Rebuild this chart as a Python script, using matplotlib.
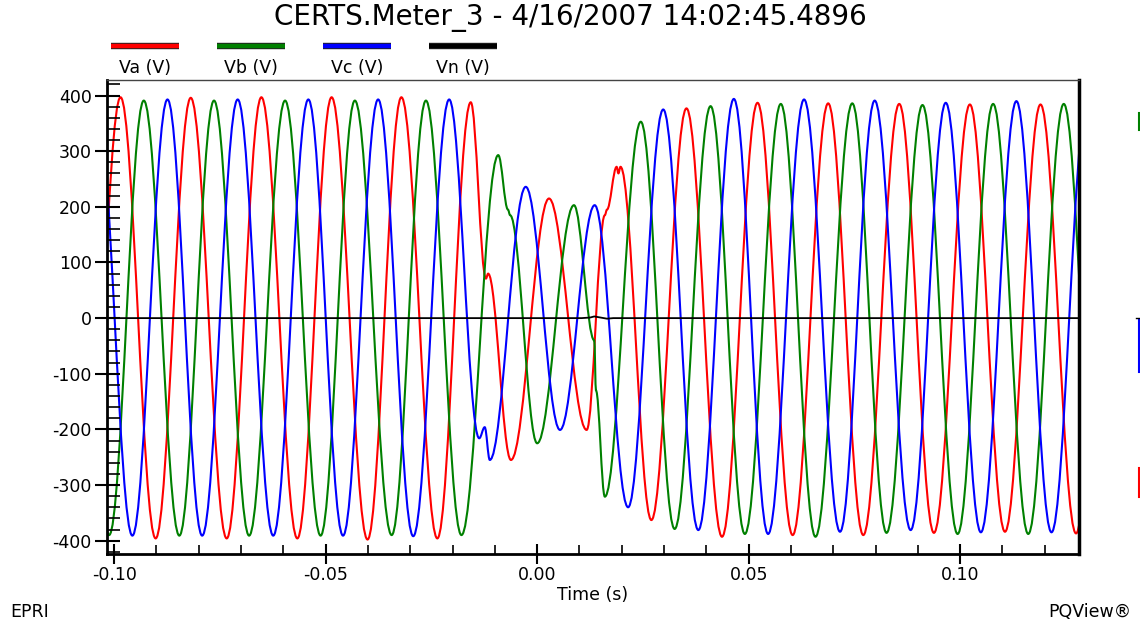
import numpy as np
import matplotlib
matplotlib.use("Agg")
import matplotlib.pyplot as plt
import matplotlib.patheffects as pe
from matplotlib.path import Path
from matplotlib.patches import PathPatch
from matplotlib.lines import Line2D
from matplotlib.ticker import MultipleLocator, FixedLocator, FormatStrFormatter

plt.rcParams["font.family"] = ["DejaVu Sans"]
plt.rcParams["axes.unicode_minus"] = False

# Datos: extremos de cada onda (tiempo en ms, tension en V)
va_t = [-106.8, -98.5, -90.2, -81.9, -73.4, -65.2, -56.7, -48.6, -40.1, -32.1, -23.6, -15.7,
        -12.1, -11.6, -6.2, 2.8, 11.7, 16.0, 16.5, 18.8, 19.2, 19.7, 27.0, 35.3, 43.7, 52.1,
        60.4, 68.8, 77.1, 85.6, 93.8, 102.3, 110.6, 119.0, 127.4, 135.7]
va_v = [-395, 397, -396, 396, -396, 397, -396, 397, -398, 397, -396, 388,
        71, 80, -255, 215, -201, 185, 195, 272, 260, 272, -363, 377, -393, 387,
        -390, 386, -390, 385, -386, 384, -384, 384, -387, 385]

vb_t = [-109.5, -101.2, -93.0, -84.6, -76.4, -68.1, -59.6, -51.2, -43.1, -34.4, -26.3, -17.9,
        -9.2, -6.9, -6.4, 0.0, 8.7, 13.5, 13.9, 16.0, 24.5, 32.5, 41.0, 49.1, 57.6, 65.8,
        74.5, 82.6, 91.1, 99.4, 107.8, 116.1, 124.5, 132.8]
vb_v = [391, -390, 391, -391, 391, -391, 391, -391, 391, -390, 391, -390,
        293, 195, 185, -225, 203, -40, -130, -321, 353, -379, 381, -388, 385, -393,
        386, -386, 383, -388, 385, -388, 385, -388]

vc_t = [-104.1, -95.7, -87.4, -79.2, -70.8, -62.4, -54.1, -45.9, -37.6, -29.3, -20.8,
        -13.7, -12.4, -11.2, -2.7, 5.4, 13.6, 21.5, 29.8, 38.1, 46.5, 54.6, 63.1, 71.6,
        79.8, 88.3, 96.6, 104.9, 113.3, 121.6, 130.0]
vc_v = [391, -391, 393, -391, 393, -391, 393, -391, 393, -392, 393,
        -216, -196, -255, 236, -201, 203, -340, 375, -381, 394, -388, 393, -384,
        391, -381, 387, -385, 390, -385, 388]

vn_t = [-101.7, 10.5, 12.5, 13.5, 15.0, 16.5, 18.0, 128.1]
vn_v = [0, 0, 1, 3, 1, -1, 0, 0]

series = ["Va (V)", "Vb (V)", "Vc (V)", "Vn (V)"]
colores = ["#ff0000", "#008000", "#0000ff", "#000000"]

titulo = "CERTS.Meter_3 - 4/16/2007 14:02:45.4896"

W, H = 1140, 626
fig = plt.figure(figsize=(W / 100, H / 100), dpi=100)
ax = fig.add_axes([107 / W, 1 - 554 / H, (1079 - 107) / W, (554 - 80) / H])

K = 0.364  # forma de la curva entre extremos (aprox. senoidal)


def onda(t_ms, v, color):
    t = np.asarray(t_ms) / 1000.0
    v = np.asarray(v, dtype=float)
    verts = [(t[0], v[0])]
    codes = [Path.MOVETO]
    for i in range(len(t) - 1):
        dt = t[i + 1] - t[i]
        verts += [(t[i] + K * dt, v[i]), (t[i + 1] - K * dt, v[i + 1]), (t[i + 1], v[i + 1])]
        codes += [Path.CURVE4] * 3
    ax.add_patch(PathPatch(Path(verts, codes), fill=False, edgecolor=color,
                           lw=1.5, joinstyle="round"))


onda(va_t, va_v, colores[0])
onda(vb_t, vb_v, colores[1])
onda(vc_t, vc_v, colores[2])
ax.plot(np.array(vn_t) / 1000.0, vn_v, color=colores[3], lw=1.3)

ax.set_xlim(-0.1017, 0.1281)
ax.set_ylim(-424, 428)

# Ejes y marcas
ax.xaxis.set_major_locator(FixedLocator([-0.10, -0.05, 0.0, 0.05, 0.10]))
ax.xaxis.set_major_formatter(FormatStrFormatter("%.2f"))
ax.xaxis.set_minor_locator(MultipleLocator(0.01))
ax.yaxis.set_major_locator(MultipleLocator(100))
ax.yaxis.set_minor_locator(MultipleLocator(20))

ax.tick_params(axis="y", which="major", direction="inout", length=18, width=1.5, pad=2, labelsize=12.5)
ax.tick_params(axis="y", which="minor", direction="in", length=9.4, width=1.2)
ax.tick_params(axis="x", which="major", direction="inout", length=14.4, width=1.5, pad=1.5, labelsize=12.5)
ax.tick_params(axis="x", which="minor", direction="in", length=6.5, width=1.2)

ax.spines["left"].set_linewidth(2)
ax.spines["bottom"].set_linewidth(2)
ax.spines["right"].set_linewidth(2.5)
ax.spines["top"].set_linewidth(1)
ax.spines["top"].set_color("#444444")

ax.set_xlabel("Time (s)", fontsize=12.5)
ax.xaxis.set_label_coords(0.5, (554 - 595) / 474)
ax.xaxis.label.set_verticalalignment("center")

fig.text(570 / W, 1 - 18 / H, titulo, ha="center", va="center", fontsize=20)

# Leyenda manual: linea arriba, texto debajo
centros = [145, 251, 357, 463]
for nombre, color, cx in zip(series, colores, centros):
    ln = Line2D([(cx - 34) / W, (cx + 34) / W], [1 - 46 / H] * 2, transform=fig.transFigure,
                color=color, lw=3.2, solid_capstyle="butt",
                path_effects=[pe.Stroke(linewidth=4.6, foreground="#222222"), pe.Normal()])
    fig.add_artist(ln)
    fig.text(cx / W, 1 - 68 / H, nombre, ha="center", va="center", fontsize=12.5)

fig.text(10 / W, 1 - 612 / H, "EPRI", ha="left", va="center", fontsize=12.5)
fig.text(1131 / W, 1 - 612 / H, "PQView®", ha="right", va="center", fontsize=12.5)

# Restos recortados en el borde derecho
for y0, y1, color in [(113, 130, colores[1]), (320, 372, colores[2]), (468, 497, colores[0])]:
    fig.add_artist(Line2D([1139 / W] * 2, [1 - y0 / H, 1 - y1 / H], transform=fig.transFigure,
                          color=color, lw=1.5))
fig.add_artist(Line2D([1136 / W, 1140 / W], [1 - 318 / H] * 2, transform=fig.transFigure,
                      color="black", lw=1))

fig.savefig("out.png", dpi=100)
